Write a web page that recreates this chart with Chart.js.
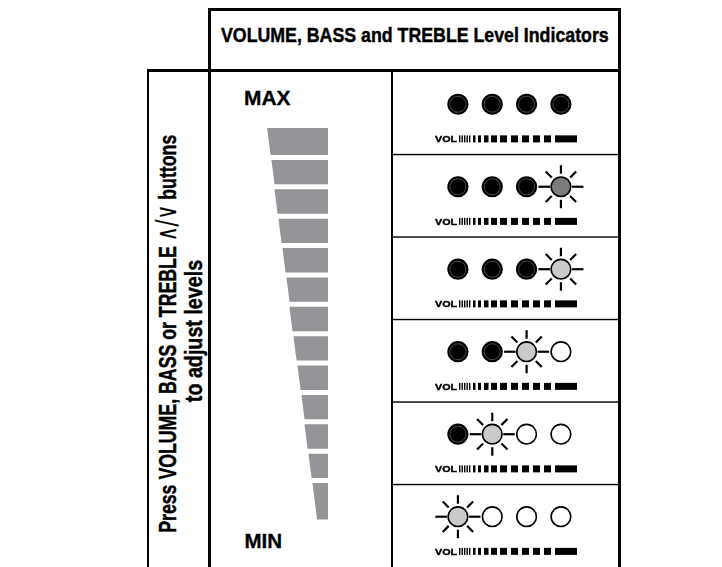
<!DOCTYPE html>
<html>
<head>
<meta charset="utf-8">
<title>VOLUME, BASS and TREBLE Level Indicators</title>
<script src="https://cdn.jsdelivr.net/npm/chart.js@4.4.1/dist/chart.umd.min.js"></script>
<style>
  html, body { margin: 0; padding: 0; background: #fff; }
  body { position: relative; width: 722px; height: 567px; overflow: hidden; }
  .rule { position: absolute; background: #000; }
  .label { position: absolute; left: 0; top: 0; white-space: nowrap; color: #000; font-weight: bold; line-height: 1; }
  .narrow { font-family: 'Liberation Sans Narrow', 'Arial Narrow', 'Liberation Sans', Arial, sans-serif; -webkit-text-stroke: 0.45px #000; }
  .wide { font-family: 'Liberation Sans', Arial, Helvetica, sans-serif; -webkit-text-stroke: 0.3px #000; }
  .chev { font-family: 'DejaVu Sans', sans-serif; font-weight: normal; font-size: 1.15em; -webkit-text-stroke: 0.2px #000; }
  canvas { position: absolute; }
</style>
</head>
<body>

<!-- table rules -->
<div class="rule" style="left:209px; top:8px; width:411px; height:2.5px"></div>
<div class="rule" style="left:146.5px; top:68.5px; width:474px; height:3px"></div>
<div class="rule" style="left:146.5px; top:70px; width:2.5px; height:497px"></div>
<div class="rule" style="left:207.5px; top:8px; width:3px; height:559px"></div>
<div class="rule" style="left:391.2px; top:70px; width:1.5px; height:497px"></div>
<div class="rule" style="left:618px; top:8px; width:2.5px; height:559px"></div>

<!-- texts: centre x/y and target width, fitted in fitLabels() -->
<div class="label narrow" data-cx="415" data-cy="35" data-w="388" style="font-size:20.5px">VOLUME, BASS and TREBLE Level Indicators</div>
<div class="label wide" data-cx="267" data-cy="98" data-w="46" style="font-size:20px">MAX</div>
<div class="label wide" data-cx="263" data-cy="541" data-w="38" style="font-size:20px">MIN</div>
<div class="label narrow" data-cx="166" data-cy="334" data-w="398" data-rot="-90" style="font-size:24px">Press VOLUME, BASS or TREBLE <span class="chev">∧/∨</span> buttons</div>
<div class="label narrow" data-cx="193" data-cy="331" data-w="142" data-rot="-90" style="font-size:24px">to adjust levels</div>

<canvas id="wedge" width="180" height="490" style="left:211px; top:72px; width:180px; height:490px"></canvas>
<canvas id="leds" width="228" height="500" style="left:392px; top:70px; width:228px; height:500px"></canvas>

<script>
// ---- data ----
// level steps of the wedge, top (MAX) to bottom (MIN), and their widths
const wedgeLevels = ['13', '12', '11', '10', '9', '8', '7', '6', '5', '4', '3', '2', '1'];
const wedgeWidths = [59, 55, 52, 48, 44, 40, 37, 33, 29, 25, 22, 18, 14];

// indicator panel: one row per level step shown, four LEDs per row
const indicatorRows = [1, 2, 3, 4, 5, 6];
const indicatorSlots = [1, 2, 3, 4];
const rowStates = [
    ['on', 'on', 'on', 'on'],
    ['on', 'on', 'on', 'flashDark'],
    ['on', 'on', 'on', 'flash'],
    ['on', 'on', 'flash', 'off'],
    ['on', 'flash', 'off', 'off'],
    ['flash', 'off', 'off', 'off']
];

// ---- styles ----
const WEDGE_GRAY = '#939598';
const LED_FILL = { on: '#000000', flashDark: '#7b7c7e', flash: '#c9cacc', off: '#ffffff' };
// VOL bar-graph strip: [offset, width] in px from the strip start
const VOL_MARKS = [
    [0, 1.4], [2.5, 1.4], [5, 1.4], [7.5, 1.4], [10, 1.4],
    [14, 2.5], [19, 3], [25, 4.5], [32, 6],
    [41, 7], [52, 7], [63, 7], [74, 7], [85, 7],
    [96, 22]
];
const LAST_STEP_TAIL = 12;

// Place and stretch every text label to the width it has in the reference
function fitLabels() {
    document.querySelectorAll('.label').forEach(el => {
        el.style.transform = 'none';
        const w = el.offsetWidth, h = el.offsetHeight;
        const k = el.dataset.w / w;
        const rot = el.dataset.rot || 0;
        el.style.left = (el.dataset.cx - w / 2) + 'px';
        el.style.top = (el.dataset.cy - h / 2) + 'px';
        el.style.transform = `rotate(${rot}deg) scaleX(${k})`;
    });
}
fitLabels();
if (document.fonts && document.fonts.ready) document.fonts.ready.then(fitLabels);

// Draws each wedge bar as a trapezoid so the left edge runs as one slope
const wedgePlugin = {
    id: 'wedgeShape',
    afterDatasetsDraw(chart) {
        const { ctx, chartArea } = chart;
        const bars = chart.getDatasetMeta(0).data;
        const first = bars[0], last = bars[bars.length - 1];
        const slope = (last.x - first.x) / (last.y - first.y);
        ctx.save();
        ctx.fillStyle = WEDGE_GRAY;
        bars.forEach((bar, i) => {
            let top = bar.y - bar.height / 2;
            let bottom = bar.y + bar.height / 2;
            if (i === 0) top = chartArea.top;
            if (i === bars.length - 1) bottom += LAST_STEP_TAIL;
            ctx.beginPath();
            ctx.moveTo(bar.x + slope * (top - bar.y), top);
            ctx.lineTo(bar.base, top);
            ctx.lineTo(bar.base, bottom);
            ctx.lineTo(bar.x + slope * (bottom - bar.y), bottom);
            ctx.closePath();
            ctx.fill();
        });
        ctx.restore();
    }
};

new Chart(document.getElementById('wedge'), {
    type: 'bar',
    data: {
        labels: wedgeLevels,
        datasets: [{
            data: wedgeWidths,
            backgroundColor: 'rgba(0,0,0,0)',
            borderWidth: 0,
            barPercentage: 0.83,
            categoryPercentage: 1
        }]
    },
    options: {
        indexAxis: 'y',
        responsive: false,
        animation: false,
        events: [],
        layout: { autoPadding: false, padding: { left: 17, right: 63, top: 56, bottom: 52 } },
        plugins: { legend: { display: false }, tooltip: { enabled: false } },
        scales: {
            x: { type: 'linear', min: 0, max: 100, reverse: true, display: false },
            y: { type: 'category', display: false }
        }
    },
    plugins: [wedgePlugin]
});

// LED points built from the row states
const ledPoints = [];
indicatorRows.forEach((row, r) => {
    indicatorSlots.forEach((slot, s) => {
        ledPoints.push({ x: slot, y: row, state: rowStates[r][s] });
    });
});

// Row separators, VOL strips, flashing rays
const ledPlugin = {
    id: 'ledDecor',
    beforeDatasetsDraw(chart) {
        const { ctx, chartArea: a, scales: { y } } = chart;
        ctx.save();
        ctx.fillStyle = '#000';
        indicatorRows.slice(0, -1).forEach(row => {
            const py = y.getPixelForValue(row + 0.61);
            ctx.fillRect(a.left, py - 0.7, a.right - a.left, 1.4);
        });
        indicatorRows.forEach(row => {
            const py = y.getPixelForValue(row + 0.42);
            // VOL label, stretched like the printed one
            ctx.save();
            ctx.font = 'bold 9px "Liberation Sans", Arial, sans-serif';
            ctx.textBaseline = 'alphabetic';
            const tw = ctx.measureText('VOL').width;
            ctx.translate(a.left + 43, py + 3.3);
            ctx.scale(22 / tw, 1);
            ctx.lineWidth = 0.4;
            ctx.strokeStyle = '#000';
            ctx.fillText('VOL', 0, 0);
            ctx.strokeText('VOL', 0, 0);
            ctx.restore();
            VOL_MARKS.forEach(([off, w]) => {
                ctx.fillRect(a.left + 67 + off, py - 3.5, w, 7);
            });
        });
        ctx.restore();
    },
    afterDatasetsDraw(chart) {
        const { ctx } = chart;
        const meta = chart.getDatasetMeta(0);
        ctx.save();
        meta.data.forEach((pt, i) => {
            const state = ledPoints[i].state;
            if (state === 'on') {
                // thin inner ring of the dark LEDs
                ctx.strokeStyle = '#5a5a5a';
                ctx.lineWidth = 0.8;
                ctx.beginPath();
                ctx.arc(pt.x, pt.y, 8, 0, Math.PI * 2);
                ctx.stroke();
            }
            if (state === 'flash' || state === 'flashDark') {
                ctx.strokeStyle = '#000';
                ctx.lineWidth = 2.2;
                for (let k = 0; k < 8; k++) {
                    const ang = k * Math.PI / 4;
                    const horizontal = k % 4 === 0;
                    const r0 = horizontal ? 11 : 13;
                    const r1 = horizontal ? 22.5 : 21.5;
                    ctx.beginPath();
                    ctx.moveTo(pt.x + r0 * Math.cos(ang), pt.y + r0 * Math.sin(ang));
                    ctx.lineTo(pt.x + r1 * Math.cos(ang), pt.y + r1 * Math.sin(ang));
                    ctx.stroke();
                }
            }
        });
        ctx.restore();
    }
};

new Chart(document.getElementById('leds'), {
    type: 'scatter',
    data: {
        datasets: [{
            data: ledPoints,
            pointRadius: 9.8,
            pointBorderWidth: 1.6,
            pointBorderColor: '#000',
            pointBackgroundColor: c => (c.raw ? LED_FILL[c.raw.state] : '#000')
        }]
    },
    options: {
        responsive: false,
        animation: false,
        events: [],
        layout: { autoPadding: false, padding: 0 },
        plugins: { legend: { display: false }, tooltip: { enabled: false } },
        scales: {
            x: { type: 'linear', min: -0.92, max: 5.72, display: false },
            y: { type: 'linear', min: 0.585, max: 6.646, reverse: true, display: false }
        }
    },
    plugins: [ledPlugin]
});
</script>
</body>
</html>
